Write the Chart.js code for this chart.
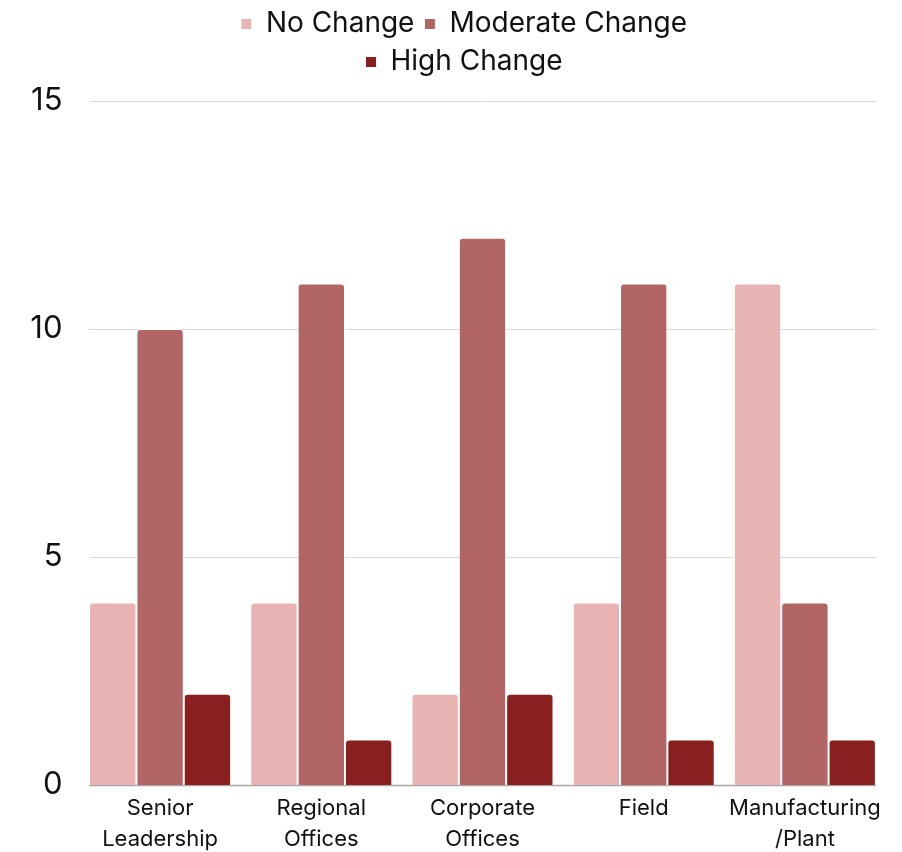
<!DOCTYPE html>
<html>
<head>
<meta charset="utf-8">
<script src="https://cdn.jsdelivr.net/npm/chart.js@4/dist/chart.umd.min.js"></script>
<style>
html,body{margin:0;padding:0;background:#fff;}
#wrap{width:902px;height:852px;position:relative;}
</style>
</head>
<body>
<div id="wrap"><canvas id="c" width="902" height="852"></canvas></div>
<script>
const categories = [['Senior','Leadership'], ['Regional','Offices'], ['Corporate','Offices'], ['Field'], ['Manufacturing','/Plant']];
const seriesNames = ['No Change', 'Moderate Change', 'High Change'];
const noChange = [4, 4, 2, 4, 11];
const moderateChange = [10, 11, 12, 11, 4];
const highChange = [2, 1, 2, 1, 1];
const yTicks = [0, 5, 10, 15];
const colors = ['#e8b3b2', '#b16564', '#8a1f1f'];
const FONT = 'Inter';

const canvas = document.getElementById('c');
const ctx0 = canvas.getContext('2d');
ctx0.letterSpacing = '1px';

const gridPlugin = {
  id: 'customGrid',
  beforeDatasetsDraw(chart) {
    const y = chart.scales.y;
    const m0 = chart.getDatasetMeta(0).data[0];
    const mL = chart.getDatasetMeta(2).data[4];
    if (!m0 || !mL) return;
    const left = m0.x - m0.width / 2;
    const right = mL.x + mL.width / 2;
    const ctx = chart.ctx;
    ctx.save();
    yTicks.forEach(v => {
      const py = Math.round(y.getPixelForValue(v)) + 0.5;
      ctx.beginPath();
      ctx.strokeStyle = v === 0 ? '#a6a6a6' : '#d9d9d9';
      ctx.lineWidth = v === 0 ? 1.5 : 1;
      ctx.moveTo(left, py);
      ctx.lineTo(right, py);
      ctx.stroke();
    });
    ctx.restore();
  }
};

const LEGEND_W = 560, LEGEND_CX = 464;
const legendWrap = {
  id: 'legendWrap',
  afterInit(chart) {
    const lg = chart.legend;
    if (!lg) return;
    const of = lg.fit.bind(lg);
    lg.fit = function () {
      const full = this.maxWidth;
      this.maxWidth = LEGEND_W;
      of();
      this.maxWidth = full;
      this.width = full;
      this.height = 101;
    };
    const od = lg.draw.bind(lg);
    lg.draw = function () {
      const l = this.left, r = this.right;
      this.left = LEGEND_CX - LEGEND_W / 2;
      this.right = LEGEND_CX + LEGEND_W / 2;
      od();
      this.left = l; this.right = r;
    };
  }
};

new Chart(canvas, {
  type: 'bar',
  data: {
    labels: categories,
    datasets: [noChange, moderateChange, highChange].map((d, i) => ({
      label: seriesNames[i],
      data: d,
      backgroundColor: colors[i],
      borderColor: '#ffffff',
      borderWidth: 1,
      borderSkipped: 'bottom',
      borderRadius: 4,
      categoryPercentage: 0.881,
      barPercentage: 1.0
    }))
  },
  options: {
    responsive: false,
    animation: false,
    layout: { padding: { left: 0, right: 16.5, top: 0, bottom: 0 } },
    plugins: {
      legend: {
        position: 'top',
        labels: {
          font: { family: FONT, size: 28 },
          color: '#111111',
          boxWidth: 11,
          boxHeight: 11,
          padding: 10
        }
      },
      tooltip: { enabled: false }
    },
    scales: {
      x: {
        offset: true,
        grid: { display: false },
        border: { display: false },
        ticks: {
          font: { family: FONT, size: 22, lineHeight: 1.42 },
          color: '#111111',
          padding: 0,
          maxRotation: 0,
          autoSkip: false
        },
        afterFit(s) { s.height = 67; }
      },
      y: {
        min: 0,
        max: 15,
        grid: { display: false },
        border: { display: false },
        ticks: {
          stepSize: 5,
          font: { family: FONT, size: 31 },
          color: '#111111',
          padding: 9
        },
        afterFit(s) { s.width = 79.5; }
      }
    }
  },
  plugins: [gridPlugin, legendWrap]
});
</script>
</body>
</html>
